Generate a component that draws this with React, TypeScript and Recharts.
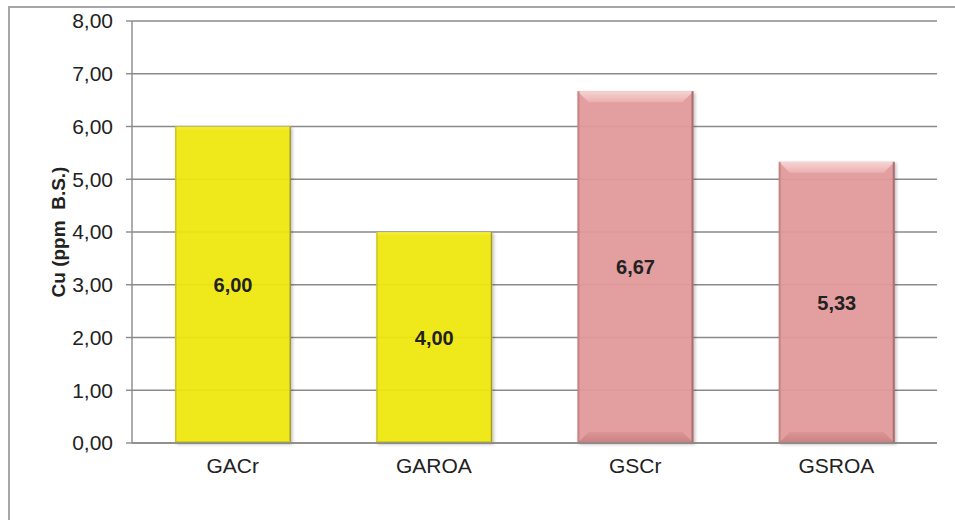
import { BarChart, Bar, XAxis, YAxis, CartesianGrid, Cell, LabelList } from "recharts";

const categorias = ["GACr", "GAROA", "GSCr", "GSROA"];
const cobre = [6.0, 4.0, 6.67, 5.33];
const cores = ["#F0E80E", "#F0E80E", "#E39A9B", "#E39A9B"];
const ticksY = [0, 1, 2, 3, 4, 5, 6, 7, 8];

const dados = categorias.map((nome, i) => ({ nome, valor: cobre[i], cor: cores[i] }));

const fmt = (v: number) => v.toFixed(2).replace(".", ",");
const fonte = "Arial, 'Liberation Sans', sans-serif";

// barra com bisel (rosa) ou borda simples (amarela)
const BarraBisel = (props: any) => {
  const { x, y, width, height, payload } = props;
  const rosa = payload.cor === "#E39A9B";
  const b = rosa ? 11 : 3;
  return (
    <g filter="url(#sombra)">
      <rect x={x} y={y} width={width} height={height} fill={payload.cor} fillOpacity={0.93} />
      {rosa ? (
        <>
          <polygon
            points={`${x},${y} ${x + width},${y} ${x + width - b},${y + b} ${x + b},${y + b}`}
            fill="url(#topoRosa)"
          />
          <polygon
            points={`${x},${y + height} ${x + width},${y + height} ${x + width - b},${y + height - b} ${x + b},${y + height - b}`}
            fill="url(#baseRosa)"
          />
          <rect x={x} y={y} width={2} height={height} fill="#B57374" fillOpacity={0.6} />
          <rect x={x + width - 2} y={y} width={2} height={height} fill="#9C6364" fillOpacity={0.8} />
        </>
      ) : (
        <>
          <rect x={x} y={y} width={width} height={b} fill="#F6F060" fillOpacity={0.4} />
          <rect x={x} y={y} width={1.5} height={height} fill="#A8A23A" fillOpacity={0.5} />
          <rect x={x + width - 1.5} y={y} width={1.5} height={height} fill="#8E8A3A" fillOpacity={0.8} />
          <rect x={x} y={y + height - 2} width={width} height={2} fill="#BDB628" fillOpacity={0.6} />
        </>
      )}
    </g>
  );
};

export default function App() {
  return (
    <div style={{ position: "absolute", left: 0, top: 0, width: 955, height: 520, overflow: "hidden", background: "#fff" }}>
      <div
        style={{
          position: "absolute",
          left: 8,
          top: 6,
          width: 980,
          height: 560,
          border: "2px solid #A6A6A6",
          boxSizing: "border-box",
        }}
      />
      <BarChart
        width={955}
        height={520}
        data={dados}
        margin={{ top: 21, right: 18, left: 8, bottom: 47 }}
        style={{ position: "absolute", left: 0, top: 0, fontFamily: fonte }}
      >
        <defs>
          <linearGradient id="topoRosa" x1="0" y1="0" x2="0" y2="1">
            <stop offset="0%" stopColor="#F7D3D3" />
            <stop offset="100%" stopColor="#EBB0B0" />
          </linearGradient>
          <linearGradient id="baseRosa" x1="0" y1="0" x2="0" y2="1">
            <stop offset="0%" stopColor="#DC9495" />
            <stop offset="100%" stopColor="#C98283" />
          </linearGradient>
          <filter id="sombra" x="-10%" y="-10%" width="125%" height="125%">
            <feDropShadow dx="1.5" dy="1.5" stdDeviation="1.5" floodColor="#000" floodOpacity="0.25" />
          </filter>
        </defs>
        <CartesianGrid vertical={false} stroke="#8A8A8A" strokeWidth={1.4} />
        <XAxis
          dataKey="nome"
          axisLine={{ stroke: "#8A8A8A", strokeWidth: 1.4 }}
          tickLine={false}
          tickSize={0}
          tickMargin={15}
          height={30}
          tick={{ fill: "#222", fontSize: 21, fontFamily: fonte }}
        />
        <YAxis
          domain={[0, 8]}
          ticks={ticksY}
          tickFormatter={fmt}
          width={124}
          axisLine={{ stroke: "#8A8A8A", strokeWidth: 1.4 }}
          tickLine={{ stroke: "#8A8A8A", strokeWidth: 1.4 }}
          tickSize={6}
          tickMargin={13}
          tick={{ fill: "#222", fontSize: 21, fontFamily: fonte }}
          label={{
            value: "Cu (ppm\u00A0\u00A0B.S.)",
            angle: -90,
            position: "insideLeft",
            offset: 50,
            style: { fill: "#222", fontSize: 19, fontWeight: "bold", textAnchor: "middle", fontFamily: fonte },
          }}
        />
        <Bar dataKey="valor" barSize={116} shape={<BarraBisel />} isAnimationActive={false}>
          {dados.map((d) => (
            <Cell key={d.nome} fill={d.cor} />
          ))}
          <LabelList
            dataKey="valor"
            position="center"
            formatter={(v: any) => fmt(Number(v))}
            style={{ fill: "#222", fontSize: 20, fontWeight: "bold", fontFamily: fonte }}
          />
        </Bar>
      </BarChart>
    </div>
  );
}
